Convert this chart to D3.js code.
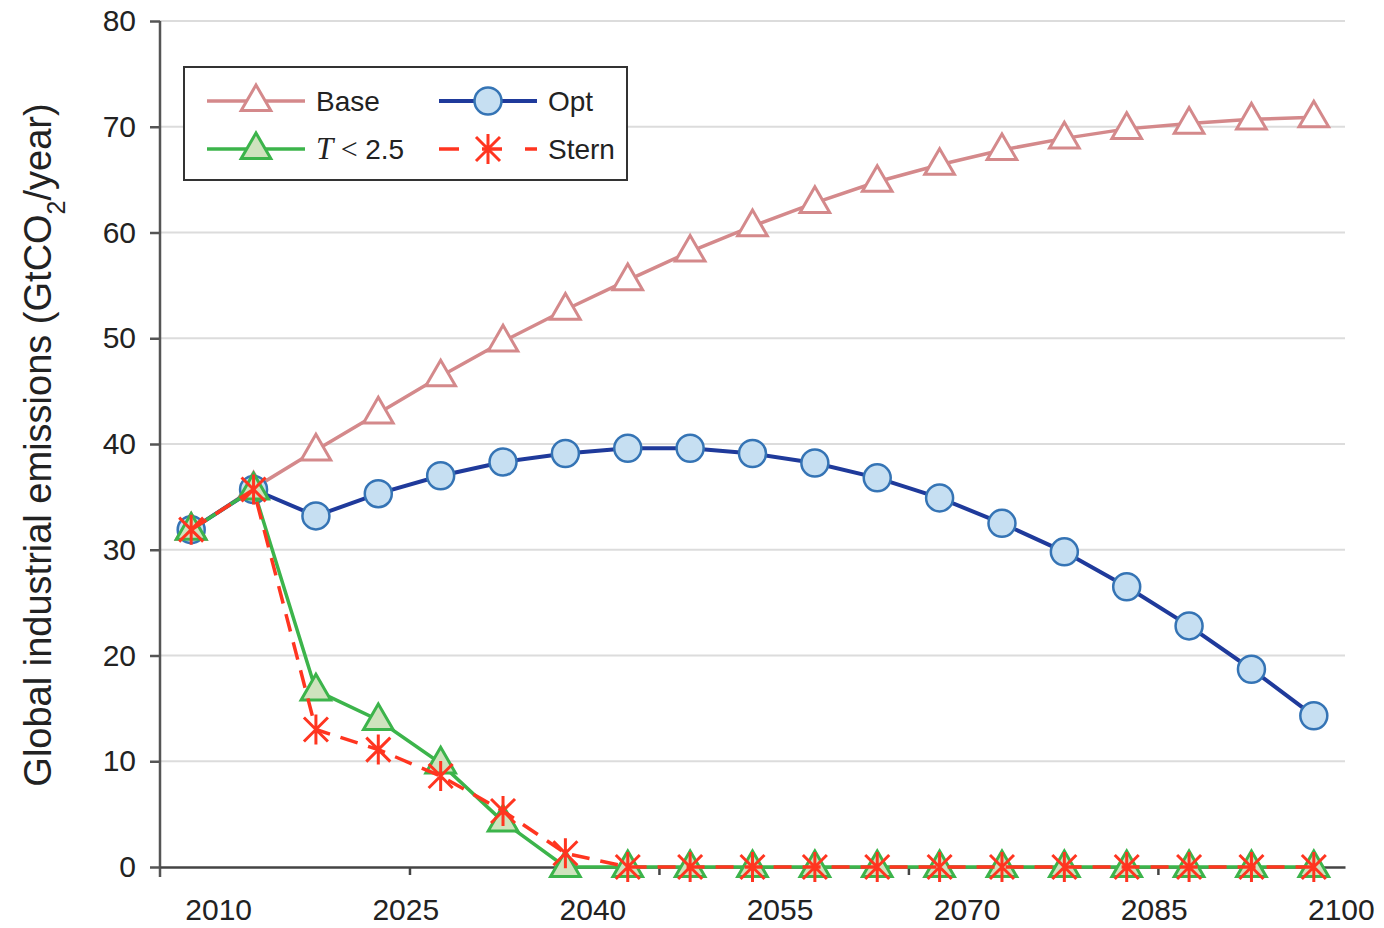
<!DOCTYPE html>
<html>
<head>
<meta charset="utf-8">
<script src="https://cdn.jsdelivr.net/npm/d3@7"></script>
<style>
  body { margin: 0; background: #fff; }
  text { font-family: "Liberation Sans", Arial, Helvetica, sans-serif; fill: #222; }
</style>
</head>
<body>
<svg id="chart"></svg>
<script>
const years = [2010, 2015, 2020, 2025, 2030, 2035, 2040, 2045, 2050, 2055,
  2060, 2065, 2070, 2075, 2080, 2085, 2090, 2095, 2100];
const base = [31.9, 35.8, 39.4, 42.9, 46.4, 49.7, 52.7, 55.5, 58.2, 60.6,
  62.8, 64.8, 66.4, 67.8, 68.9, 69.8, 70.3, 70.7, 70.9];
const opt = [31.9, 35.7, 33.2, 35.3, 37.0, 38.3, 39.1, 39.6, 39.6, 39.1,
  38.2, 36.8, 34.9, 32.5, 29.8, 26.5, 22.8, 18.7, 14.3];
const t25 = [31.9, 35.7, 16.7, 13.9, 9.8, 4.3, 0, 0, 0, 0,
  0, 0, 0, 0, 0, 0, 0, 0, 0];
const stern = [31.9, 35.7, 13.0, 11.1, 8.6, 5.3, 1.3, 0, 0, 0,
  0, 0, 0, 0, 0, 0, 0, 0, 0];
const yTicks = [0, 10, 20, 30, 40, 50, 60, 70, 80];
const xLabels = [2010, 2025, 2040, 2055, 2070, 2085, 2100];
const xMarks = [2007.5, 2027.5, 2047.5, 2067.5, 2087.5];

const width = 1384;
const height = 928;

const svg = d3.select("#chart").attr("width", width).attr("height", height);

const x = d3.scaleLinear().domain([2007.5, 2102.5]).range([160, 1345]);
const y = d3.scaleLinear().domain([0, 80]).range([867, 21]);

// gridlines
svg.append("g")
  .selectAll("line")
  .data(yTicks.filter((d) => d > 0))
  .enter()
  .append("line")
  .attr("x1", x(2007.5))
  .attr("x2", x(2102.5))
  .attr("y1", (d) => y(d))
  .attr("y2", (d) => y(d))
  .attr("stroke", "#dcdcdc")
  .attr("stroke-width", 2);

// y axis
const yAxis = svg.append("g")
  .attr("transform", `translate(${x(2007.5)},0)`)
  .call(d3.axisLeft(y).tickValues(yTicks).tickSize(10).tickSizeOuter(0).tickPadding(14));
yAxis.selectAll("text").style("font-size", "30px").attr("fill", "#1c1c1c");
yAxis.selectAll("line, path").attr("stroke", "#555").attr("stroke-width", 2.5);
yAxis.select(".domain").attr("d", `M0,${y(80)}V${y(0) + 10}`);

// x axis: tick marks
const xAxis = svg.append("g")
  .attr("transform", `translate(0,${y(0)})`)
  .call(d3.axisBottom(x).tickValues(xMarks).tickSize(8).tickSizeOuter(0).tickFormat(""));
xAxis.selectAll("line, path").attr("stroke", "#444").attr("stroke-width", 2.5);
xAxis.selectAll(".tick").filter((d) => d === 2007.5).remove();

// x axis: labels (offset as in the original)
const xLab = svg.append("g")
  .attr("transform", `translate(27,${y(0)})`)
  .call(d3.axisBottom(x).tickValues(xLabels).tickSize(0).tickPadding(32).tickFormat(d3.format("d")));
xLab.select(".domain").remove();
xLab.selectAll("text").style("font-size", "30px").attr("fill", "#1c1c1c");

// y title
const title = svg.append("text")
  .attr("transform", `translate(51,445) rotate(-90)`)
  .attr("text-anchor", "middle")
  .style("font-size", "38px");
title.append("tspan").text("Global industrial emissions (GtCO");
title.append("tspan").text("2").attr("baseline-shift", "sub").style("font-size", "25px");
title.append("tspan").text("/year)");

// markers
const triPath = d3.symbol(d3.symbolTriangle).size(380)();
const starPath = "M-12,-12L12,12M12,-12L-12,12M0,-15L0,15";

const series = [
  { name: "Base", values: base, line: "#d4898b", width: 3.5, dash: null,
    marker: "tri", fill: "#fff", stroke: "#d4898b" },
  { name: "Opt", values: opt, line: "#1f3a9b", width: 4, dash: null,
    marker: "circle", fill: "#c6dff2", stroke: "#3574b5" },
  { name: "T25", values: t25, line: "#3cb44b", width: 3.5, dash: null,
    marker: "tri", fill: "#cfe3be", stroke: "#3cb44b" },
  { name: "Stern", values: stern, line: "#ff3520", width: 3.5, dash: "18,11",
    marker: "star", fill: "none", stroke: "#ff3520" }
];

function drawMarker(g, s) {
  if (s.marker === "circle") {
    g.append("circle").attr("r", 13.5)
      .attr("fill", s.fill).attr("stroke", s.stroke).attr("stroke-width", 2.5);
  } else if (s.marker === "tri") {
    g.append("path").attr("d", triPath).attr("transform", "translate(0,1)")
      .attr("fill", s.fill).attr("stroke", s.stroke).attr("stroke-width", 3);
  } else {
    g.append("path").attr("d", starPath)
      .attr("fill", "none").attr("stroke", s.stroke).attr("stroke-width", 3);
  }
}

const line = d3.line()
  .x((d, i) => x(years[i]))
  .y((d) => y(d));

series.forEach((s) => {
  const g = svg.append("g");
  g.append("path")
    .datum(s.values)
    .attr("d", line)
    .attr("fill", "none")
    .attr("stroke", s.line)
    .attr("stroke-width", s.width)
    .attr("stroke-dasharray", s.dash);
  g.selectAll(".m")
    .data(s.values)
    .enter()
    .append("g")
    .attr("class", "m")
    .attr("transform", (d, i) => `translate(${x(years[i])},${y(d)})`)
    .each(function () { drawMarker(d3.select(this), s); });
});

// legend
const legend = svg.append("g");
legend.append("rect")
  .attr("x", 184).attr("y", 67).attr("width", 443).attr("height", 113)
  .attr("fill", "#fff").attr("stroke", "#333").attr("stroke-width", 2);

const legPos = [
  { x: 207, y: 101 }, { x: 439, y: 101 },
  { x: 207, y: 149 }, { x: 439, y: 149 }
];
series.forEach((s, i) => {
  const p = legPos[i];
  const g = legend.append("g").attr("transform", `translate(${p.x},${p.y})`);
  g.append("line").attr("x1", 0).attr("x2", 98)
    .attr("stroke", s.line).attr("stroke-width", s.width)
    .attr("stroke-dasharray", s.dash ? "20,23" : null);
  drawMarker(g.append("g").attr("transform", "translate(49,0)"), s);
  const t = g.append("text").attr("x", 109).attr("dy", "0.36em").style("font-size", "28px");
  if (s.name === "T25") {
    t.append("tspan").text("T").style("font-family", "'Liberation Serif', serif")
      .style("font-style", "italic").style("font-size", "31px");
    t.append("tspan").text(" < ").style("font-family", "'Liberation Serif', serif")
      .style("font-size", "30px");
    t.append("tspan").text("2.5");
  } else {
    t.text(s.name);
  }
});
</script>
</body>
</html>
